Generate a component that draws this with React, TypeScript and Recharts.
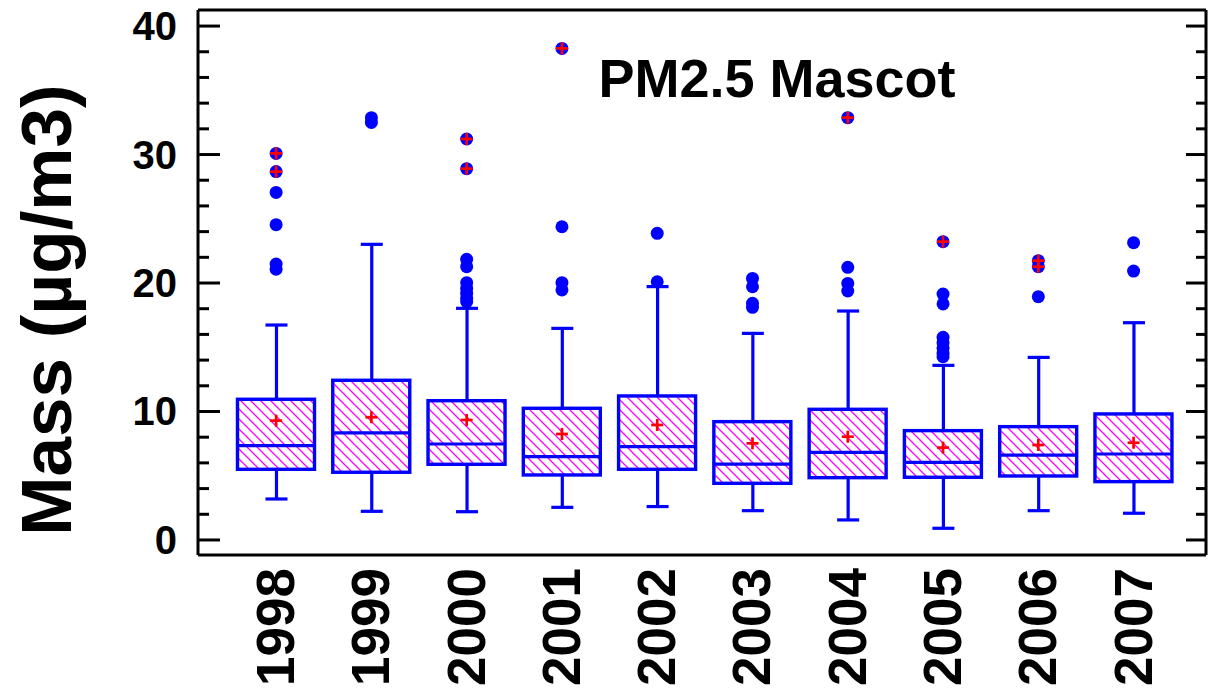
import { ComposedChart, Bar, Scatter, XAxis, YAxis } from "recharts";

const years = ["1998", "1999", "2000", "2001", "2002", "2003", "2004", "2005", "2006", "2007"];

// box statistics per year (µg/m3)
const whiskerLow = [3.19, 2.23, 2.2, 2.54, 2.6, 2.28, 1.56, 0.91, 2.28, 2.08];
const q1 = [5.5, 5.27, 5.89, 5.06, 5.5, 4.41, 4.85, 4.88, 4.98, 4.54];
const median = [7.34, 8.33, 7.47, 6.49, 7.26, 5.91, 6.82, 6.04, 6.61, 6.69];
const mean = [9.29, 9.55, 9.34, 8.25, 8.95, 7.52, 8.04, 7.19, 7.39, 7.57];
const q3 = [10.95, 12.43, 10.84, 10.25, 11.21, 9.21, 10.17, 8.51, 8.82, 9.81];
const whiskerHigh = [16.73, 23.01, 18.03, 16.47, 19.72, 16.08, 17.82, 13.59, 14.21, 16.91];

const outliers = [
  [30.09, 28.67, 27.05, 24.54, 21.48, 21.07],
  [32.87, 32.5],
  [31.21, 28.9, 21.84, 21.27, 20.03, 19.58, 19.2, 18.81, 18.55],
  [38.26, 24.38, 20.03, 19.46],
  [23.87, 20.1],
  [20.36, 19.71, 18.42, 18.11],
  [32.87, 21.22, 19.97, 19.38],
  [23.22, 19.14, 18.37, 15.77, 15.36, 14.92, 14.53, 14.27],
  [21.74, 21.27, 18.94],
  [23.14, 20.93],
];
// outliers marked with a red cross
const extremes = [[30.09, 28.67], [], [31.21, 28.9], [38.26], [], [], [32.87], [23.22], [21.74, 21.27], []];

const yTicks = [0, 2, 4, 6, 8, 10, 12, 14, 16, 18, 20, 22, 24, 26, 28, 30, 32, 34, 36, 38, 40];
const xTicks = [1, 2, 3, 4, 5, 6, 7, 8, 9, 10];

const BLUE = "#0000ff";
const RED = "#ff0000";
const FONT = "'Liberation Sans', Arial, sans-serif";

const boxData = years.map((year, i) => ({
  x: i + 1,
  year,
  whisker: [whiskerLow[i], whiskerHigh[i]],
  box: [q1[i], q3[i]],
}));
const medianPts = median.map((v, i) => ({ x: i + 1, y: v }));
const meanPts = mean.map((v, i) => ({ x: i + 1, y: v }));
const outlierPts = outliers.flatMap((vals, i) => vals.map((v) => ({ x: i + 1, y: v })));
const extremePts = extremes.flatMap((vals, i) => vals.map((v) => ({ x: i + 1, y: v })));

function WhiskerShape(props: any) {
  const { x, y, width, height } = props;
  const top = Math.min(y, y + height);
  const bot = Math.max(y, y + height);
  const cx = x + width / 2;
  return (
    <g stroke={BLUE} strokeWidth={3.2}>
      <line x1={cx} y1={top} x2={cx} y2={bot} />
      <line x1={x} y1={top} x2={x + width} y2={top} />
      <line x1={x} y1={bot} x2={x + width} y2={bot} />
    </g>
  );
}

function BoxShape(props: any) {
  const { x, y, width, height } = props;
  const top = Math.min(y, y + height);
  const h = Math.abs(height);
  return (
    <g>
      <rect x={x} y={top} width={width} height={h} fill="#ffffff" />
      <rect x={x} y={top} width={width} height={h} fill="url(#hatch)" stroke={BLUE} strokeWidth={3.4} />
    </g>
  );
}

function MedianShape(props: any) {
  const { cx, cy } = props;
  return <line x1={cx - 38.5} y1={cy} x2={cx + 38.5} y2={cy} stroke={BLUE} strokeWidth={3.2} />;
}

function CrossShape(props: any) {
  const { cx, cy } = props;
  return (
    <g stroke={RED} strokeWidth={2.7}>
      <line x1={cx - 6} y1={cy} x2={cx + 6} y2={cy} />
      <line x1={cx} y1={cy - 6} x2={cx} y2={cy + 6} />
    </g>
  );
}

function DotShape(props: any) {
  const { cx, cy } = props;
  return <circle cx={cx} cy={cy} r={6.5} fill={BLUE} />;
}

function LeftTick(props: any) {
  const { x, y, payload } = props;
  const major = payload.value % 10 === 0;
  return (
    <g>
      <line x1={x} y1={y} x2={x + (major ? 22 : 11)} y2={y} stroke="#000" strokeWidth={3} />
      {major && (
        <text x={x - 21} y={y + 14} textAnchor="end" fontSize={40} fontWeight="bold" fontFamily={FONT} fill="#000">
          {payload.value}
        </text>
      )}
    </g>
  );
}

function RightTick(props: any) {
  const { x, y, payload } = props;
  const major = payload.value % 10 === 0;
  return <line x1={x} y1={y} x2={x - (major ? 20 : 10)} y2={y} stroke="#000" strokeWidth={3} />;
}

function YearTick(props: any) {
  const { x, y, payload } = props;
  return (
    <text
      transform={`translate(${x + 18},${y + 13}) rotate(-90)`}
      textAnchor="end"
      fontSize={53}
      fontWeight="bold"
      fontFamily={FONT}
      fill="#000"
    >
      {years[payload.value - 1]}
    </text>
  );
}

function YLabel() {
  return (
    <text
      transform="translate(71,310) rotate(-90)"
      textAnchor="middle"
      fontSize={71}
      fontWeight="bold"
      fontFamily={FONT}
      fill="#000"
    >
      Mass (µg/m3)
    </text>
  );
}

export default function App() {
  return (
    <div style={{ position: "absolute", left: 0, top: 0, width: 1209, height: 692, background: "#fff" }}>
      <ComposedChart width={1209} height={692} data={boxData} margin={{ top: 9, right: 2, bottom: 0, left: 0 }}>
        <defs>
          <pattern id="hatch" patternUnits="userSpaceOnUse" width={10} height={10}>
            <path d="M-1,-1 L11,11 M-1,9 L1,11 M9,-1 L11,1" stroke="#ff00ff" strokeWidth={1.3} />
          </pattern>
        </defs>
        <XAxis
          dataKey="x"
          type="number"
          domain={[0.18, 10.76]}
          ticks={xTicks}
          interval={0}
          allowDataOverflow
          height={137}
          tickSize={0}
          tickMargin={0}
          tickLine={false}
          axisLine={{ stroke: "#000", strokeWidth: 3 }}
          tick={<YearTick />}
        />
        <XAxis
          xAxisId="top"
          orientation="top"
          dataKey="x"
          type="number"
          domain={[0.18, 10.76]}
          ticks={xTicks}
          allowDataOverflow
          height={1}
          tick={false}
          tickLine={false}
          axisLine={{ stroke: "#000", strokeWidth: 3 }}
        />
        <YAxis
          type="number"
          domain={[-1.17, 41.25]}
          ticks={yTicks}
          interval={0}
          allowDataOverflow
          width={198}
          tickSize={0}
          tickMargin={0}
          tickLine={false}
          axisLine={{ stroke: "#000", strokeWidth: 3 }}
          tick={<LeftTick />}
          label={<YLabel />}
        />
        <YAxis
          yAxisId="right"
          orientation="right"
          type="number"
          domain={[-1.17, 41.25]}
          ticks={yTicks}
          interval={0}
          allowDataOverflow
          width={1}
          tickSize={0}
          tickMargin={0}
          tickLine={false}
          axisLine={{ stroke: "#000", strokeWidth: 3 }}
          tick={<RightTick />}
        />
        <Bar dataKey="whisker" barSize={22} shape={<WhiskerShape />} isAnimationActive={false} />
        <Bar dataKey="box" xAxisId="top" barSize={77} shape={<BoxShape />} isAnimationActive={false} />
        <Scatter data={medianPts} dataKey="y" shape={<MedianShape />} isAnimationActive={false} />
        <Scatter data={meanPts} dataKey="y" shape={<CrossShape />} isAnimationActive={false} />
        <Scatter data={outlierPts} dataKey="y" shape={<DotShape />} isAnimationActive={false} />
        <Scatter data={extremePts} dataKey="y" shape={<CrossShape />} isAnimationActive={false} />
      </ComposedChart>
      <div
        style={{
          position: "absolute",
          left: 777,
          top: 51,
          transform: "translateX(-50%)",
          whiteSpace: "nowrap",
          fontFamily: FONT,
          fontWeight: "bold",
          fontSize: 54,
          lineHeight: 1,
          color: "#000",
        }}
      >
        PM2.5 Mascot
      </div>
    </div>
  );
}
